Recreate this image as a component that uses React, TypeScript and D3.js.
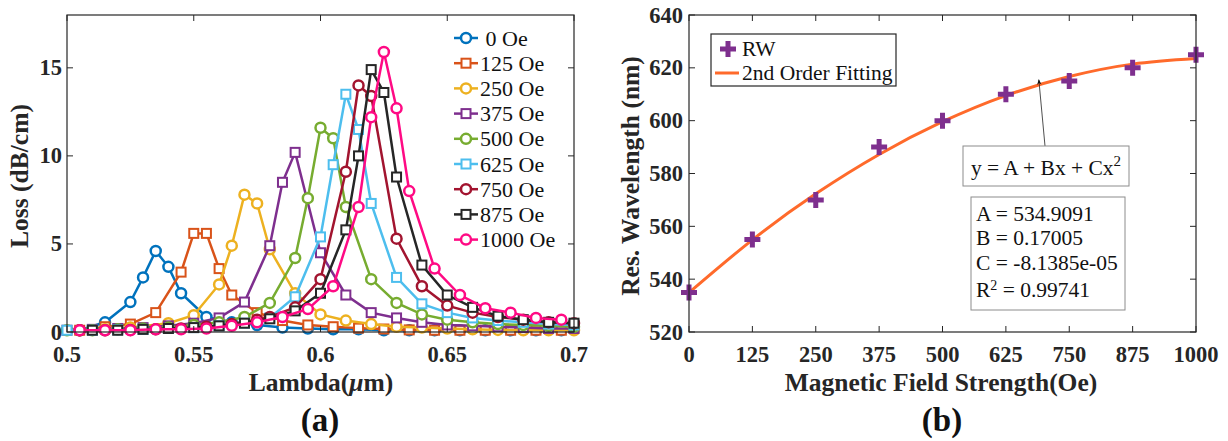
import * as d3 from "d3";
import React from "react";

// (a) loss spectra, [lambda (um), loss (dB/cm)]
const oe0: [number, number][] = [
  [0.505, 0.1], [0.515, 0.55], [0.525, 1.7], [0.53, 3.1], [0.535, 4.6], [0.54, 3.7], [0.545, 2.2],
  [0.555, 0.85], [0.565, 0.55], [0.575, 0.4], [0.585, 0.25], [0.595, 0.2], [0.605, 0.15], [0.615, 0.15],
  [0.625, 0.1], [0.635, 0.1], [0.645, 0.1], [0.655, 0.1], [0.665, 0.1], [0.675, 0.1], [0.685, 0.1], [0.695, 0.1],
];
const oe125: [number, number][] = [
  [0.505, 0.1], [0.515, 0.3], [0.525, 0.45], [0.535, 1.1], [0.545, 3.4], [0.55, 5.6], [0.555, 5.6], [0.56, 3.6],
  [0.565, 2.1], [0.575, 1.1], [0.585, 0.65], [0.595, 0.4], [0.605, 0.3], [0.615, 0.22], [0.625, 0.17],
  [0.635, 0.12], [0.645, 0.1], [0.655, 0.1], [0.665, 0.1], [0.675, 0.1], [0.685, 0.1], [0.695, 0.1],
];
const oe250: [number, number][] = [
  [0.505, 0.1], [0.515, 0.15], [0.525, 0.25], [0.54, 0.5], [0.55, 0.95], [0.56, 2.7], [0.565, 4.9], [0.57, 7.8],
  [0.575, 7.3], [0.58, 4.7], [0.59, 2.2], [0.6, 1.0], [0.61, 0.65], [0.62, 0.45], [0.63, 0.3], [0.64, 0.25],
  [0.65, 0.2], [0.66, 0.15], [0.67, 0.12], [0.68, 0.1], [0.69, 0.1], [0.7, 0.1],
];
const oe375: [number, number][] = [
  [0.5, 0.1], [0.51, 0.15], [0.52, 0.2], [0.53, 0.25], [0.54, 0.35], [0.55, 0.5], [0.56, 0.8], [0.57, 1.7],
  [0.58, 4.9], [0.585, 8.5], [0.59, 10.2], [0.6, 4.5], [0.61, 2.1], [0.62, 1.1], [0.63, 0.8], [0.64, 0.55],
  [0.65, 0.4], [0.66, 0.35], [0.67, 0.3], [0.68, 0.25], [0.69, 0.2], [0.7, 0.2],
];
const oe500: [number, number][] = [
  [0.5, 0.1], [0.51, 0.1], [0.52, 0.15], [0.53, 0.2], [0.54, 0.25], [0.55, 0.4], [0.56, 0.55], [0.57, 0.85],
  [0.58, 1.65], [0.59, 4.2], [0.595, 7.6], [0.6, 11.6], [0.605, 11.0], [0.61, 7.1], [0.62, 3.0], [0.63, 1.65],
  [0.64, 1.0], [0.65, 0.7], [0.66, 0.55], [0.67, 0.45], [0.68, 0.4], [0.69, 0.35], [0.7, 0.3],
];
const oe625: [number, number][] = [
  [0.5, 0.1], [0.51, 0.1], [0.52, 0.12], [0.53, 0.15], [0.54, 0.2], [0.55, 0.25], [0.56, 0.35], [0.57, 0.5],
  [0.58, 0.8], [0.59, 2.0], [0.6, 5.4], [0.605, 9.5], [0.61, 13.5], [0.615, 11.5], [0.62, 7.3], [0.63, 3.1],
  [0.64, 1.6], [0.65, 1.1], [0.66, 0.8], [0.67, 0.65], [0.68, 0.55], [0.69, 0.45], [0.7, 0.4],
];
const oe750: [number, number][] = [
  [0.505, 0.1], [0.515, 0.1], [0.525, 0.12], [0.535, 0.15], [0.545, 0.2], [0.555, 0.3], [0.565, 0.45],
  [0.575, 0.7], [0.58, 0.85], [0.59, 1.4], [0.6, 3.0], [0.61, 9.1], [0.615, 14.0], [0.62, 13.4], [0.63, 5.3],
  [0.64, 2.6], [0.65, 1.5], [0.66, 1.1], [0.67, 0.85], [0.68, 0.7], [0.69, 0.55], [0.7, 0.5],
];
const oe875: [number, number][] = [
  [0.51, 0.1], [0.52, 0.1], [0.53, 0.15], [0.54, 0.2], [0.55, 0.25], [0.56, 0.35], [0.57, 0.5], [0.58, 0.75],
  [0.59, 1.2], [0.6, 2.2], [0.61, 5.8], [0.615, 10.0], [0.62, 14.9], [0.625, 13.6], [0.63, 8.8], [0.64, 3.8],
  [0.65, 2.1], [0.66, 1.4], [0.67, 0.9], [0.68, 0.7], [0.69, 0.55], [0.7, 0.5],
];
const oe1000: [number, number][] = [
  [0.505, 0.1], [0.515, 0.1], [0.525, 0.1], [0.535, 0.15], [0.545, 0.15], [0.555, 0.2], [0.565, 0.35],
  [0.575, 0.55], [0.585, 0.85], [0.595, 1.3], [0.605, 2.6], [0.615, 7.1], [0.62, 12.2], [0.625, 15.9],
  [0.63, 12.7], [0.635, 8.0], [0.645, 3.6], [0.655, 2.1], [0.665, 1.35], [0.675, 1.1], [0.685, 0.8], [0.695, 0.7],
];

const seriesLabels = [" 0 Oe", "125 Oe", "250 Oe", "375 Oe", "500 Oe", "625 Oe", "750 Oe", "875 Oe", "1000 Oe"];
const seriesData = [oe0, oe125, oe250, oe375, oe500, oe625, oe750, oe875, oe1000];
const seriesColors = ["#0072BD", "#D95319", "#EDB120", "#7E2F8E", "#77AC30", "#4DBEEE", "#A2142F", "#262626", "#FF0A84"];
const seriesMarkers = ["circle", "square", "circle", "square", "circle", "square", "circle", "square", "circle"];

const lambdaTicks = [0.5, 0.55, 0.6, 0.65, 0.7];
const lossTicks = [0, 5, 10, 15];

// (b) resonant wavelength vs field
const fieldOe = [0, 125, 250, 375, 500, 625, 750, 875, 1000];
const resWavelength = [535, 555, 570, 590, 600, 610, 615, 620, 625];
const fitWavelength = [534.9, 554.9, 572.3, 587.2, 599.6, 609.5, 616.7, 621.4, 623.5];
const fieldTicks = [0, 125, 250, 375, 500, 625, 750, 875, 1000];
const wlTicks = [520, 540, 560, 580, 600, 620, 640];
const fitCoeffs = ["A = 534.9091", "B = 0.17005", "C = -8.1385e-05"];
const rSquared = "0.99741";

const FONT = "'Liberation Serif', 'Times New Roman', serif";
const AX = "#262626";

const Marker: React.FC<{ kind: string; x: number; y: number; color: string }> = ({ kind, x, y, color }) =>
  kind === "circle" ? (
    <circle cx={x} cy={y} r={5} fill="white" stroke={color} strokeWidth={2.5} />
  ) : (
    <rect x={x - 4.5} y={y - 4.5} width={9} height={9} fill="white" stroke={color} strokeWidth={2} />
  );

const Plus: React.FC<{ x: number; y: number }> = ({ x, y }) => (
  <path d={`M${x - 8},${y}H${x + 8}M${x},${y - 8}V${y + 8}`} stroke="#7E2F8E" strokeWidth={5} />
);

const App: React.FC = () => {
  // panel (a)
  const xA = d3.scaleLinear().domain([0.5, 0.7]).range([67, 574]);
  const yA = d3.scaleLinear().domain([0, 18]).range([332, 15]);
  const lineA = d3
    .line<[number, number]>()
    .x((d) => xA(d[0]))
    .y((d) => yA(d[1]));

  // panel (b)
  const xB = d3.scaleLinear().domain([0, 1000]).range([689, 1196]);
  const yB = d3.scaleLinear().domain([520, 640]).range([332, 15]);
  const fitLine = d3
    .line<number>()
    .x((_, i) => xB(fieldOe[i]))
    .y((d) => yB(d))
    .curve(d3.curveNatural);

  const tick = 6;
  const arrowTip = { x: xB(690), y: yB(615.5) };

  return (
    <svg width={1228} height={441} style={{ position: "absolute", left: 0, top: 0, background: "white" }} fontFamily={FONT}>
      <defs>
        <marker id="arrowhead" viewBox="0 0 10 10" refX={9} refY={5} markerWidth={7} markerHeight={9} orient="auto">
          <path d="M0,1 L10,5 L0,9 L3,5 Z" fill="#111" />
        </marker>
      </defs>

      {/* ---------- (a) ---------- */}
      <g>
        {seriesData.map((s, i) => (
          <g key={i}>
            <path d={lineA(s) ?? ""} fill="none" stroke={seriesColors[i]} strokeWidth={2.5} />
            {s.map((d, j) => (
              <Marker key={j} kind={seriesMarkers[i]} x={xA(d[0])} y={yA(d[1])} color={seriesColors[i]} />
            ))}
          </g>
        ))}
        <rect x={67} y={15} width={507} height={317} fill="none" stroke={AX} strokeWidth={1.2} />
        {lambdaTicks.map((t) => (
          <g key={t}>
            <line x1={xA(t)} x2={xA(t)} y1={332} y2={332 - tick} stroke={AX} />
            <line x1={xA(t)} x2={xA(t)} y1={15} y2={15 + tick} stroke={AX} />
            <text x={xA(t)} y={362} textAnchor="middle" fontSize={22.5} fontWeight="bold" fill={AX}>
              {String(t)}
            </text>
          </g>
        ))}
        {lossTicks.map((t) => (
          <g key={t}>
            <line x1={67} x2={67 + tick} y1={yA(t)} y2={yA(t)} stroke={AX} />
            <line x1={574} x2={574 - tick} y1={yA(t)} y2={yA(t)} stroke={AX} />
            <text x={62} y={yA(t) + 7.5} textAnchor="end" fontSize={22.5} fontWeight="bold" fill={AX}>
              {t}
            </text>
          </g>
        ))}
        <text transform="translate(28,176) rotate(-90)" textAnchor="middle" fontSize={25.5} fontWeight="bold" fill={AX}>
          Loss (dB/cm)
        </text>
        <text x={321} y={391} textAnchor="middle" fontSize={25.5} fontWeight="bold" fill={AX}>
          Lambda(<tspan fontStyle="italic">μ</tspan>m)
        </text>
        <text x={320} y={431} textAnchor="middle" fontSize={33} fontWeight="bold" fill="#111">
          (a)
        </text>
        {seriesLabels.map((lab, i) => {
          const ly = 38 + i * 25.2;
          return (
            <g key={lab}>
              <line x1={454} x2={478} y1={ly} y2={ly} stroke={seriesColors[i]} strokeWidth={2.5} />
              <Marker kind={seriesMarkers[i]} x={466} y={ly} color={seriesColors[i]} />
              <text x={480} y={ly + 7.5} fontSize={22} fill="#111" style={{ whiteSpace: "pre" }}>
                {lab}
              </text>
            </g>
          );
        })}
      </g>

      {/* ---------- (b) ---------- */}
      <g>
        <path d={fitLine(fitWavelength) ?? ""} fill="none" stroke="#FF6A2B" strokeWidth={3} />
        {resWavelength.map((w, i) => (
          <Plus key={i} x={xB(fieldOe[i])} y={yB(w)} />
        ))}
        <rect x={689} y={15} width={507} height={317} fill="none" stroke={AX} strokeWidth={1.2} />
        {fieldTicks.map((t) => (
          <g key={t}>
            <line x1={xB(t)} x2={xB(t)} y1={332} y2={332 - tick} stroke={AX} />
            <line x1={xB(t)} x2={xB(t)} y1={15} y2={15 + tick} stroke={AX} />
            <text x={xB(t)} y={362} textAnchor="middle" fontSize={22.5} fontWeight="bold" fill={AX}>
              {t}
            </text>
          </g>
        ))}
        {wlTicks.map((t) => (
          <g key={t}>
            <line x1={689} x2={689 + tick} y1={yB(t)} y2={yB(t)} stroke={AX} />
            <line x1={1196} x2={1196 - tick} y1={yB(t)} y2={yB(t)} stroke={AX} />
            <text x={683} y={yB(t) + 7.5} textAnchor="end" fontSize={22.5} fontWeight="bold" fill={AX}>
              {t}
            </text>
          </g>
        ))}
        <text transform="translate(639,176) rotate(-90)" textAnchor="middle" fontSize={25.5} fontWeight="bold" fill={AX}>
          Res. Wavelength (nm)
        </text>
        <text x={941} y={391} textAnchor="middle" fontSize={25.5} fontWeight="bold" fill={AX}>
          Magnetic Field Strength(Oe)
        </text>
        <text x={942} y={431} textAnchor="middle" fontSize={33} fontWeight="bold" fill="#111">
          (b)
        </text>

        {/* legend */}
        <rect x={711} y={34} width={185} height={52} fill="white" stroke={AX} strokeWidth={1.2} />
        <Plus x={728} y={49} />
        <text x={742} y={56} fontSize={21.5} fill="#111">
          RW
        </text>
        <line x1={715} x2={739} y1={73} y2={73} stroke="#FF6A2B" strokeWidth={3} />
        <text x={742} y={80} fontSize={21.5} fill="#111">
          2nd Order Fitting
        </text>

        {/* annotation */}
        <line x1={1045} y1={146} x2={arrowTip.x} y2={arrowTip.y} stroke="#222" strokeWidth={0.8} markerEnd="url(#arrowhead)" />
        <rect x={963} y={146} width={166} height={40} fill="white" stroke="#8c8c8c" strokeWidth={1} />
        <text x={1046} y={175} textAnchor="middle" fontSize={21.5} fill="#111">
          y = A + Bx + Cx<tspan dy={-9} fontSize={15}>2</tspan>
        </text>
        <rect x={971} y={197} width={154} height={113} fill="white" stroke="#8c8c8c" strokeWidth={1} />
        {fitCoeffs.map((c, i) => (
          <text key={c} x={976} y={221 + i * 24.3} fontSize={21.5} fill="#111">
            {c}
          </text>
        ))}
        <text x={976} y={297} fontSize={21.5} fill="#111">
          R<tspan dy={-7} fontSize={14}>2</tspan>
          <tspan dy={7}> = {rSquared}</tspan>
        </text>
      </g>
    </svg>
  );
};

export default App;
